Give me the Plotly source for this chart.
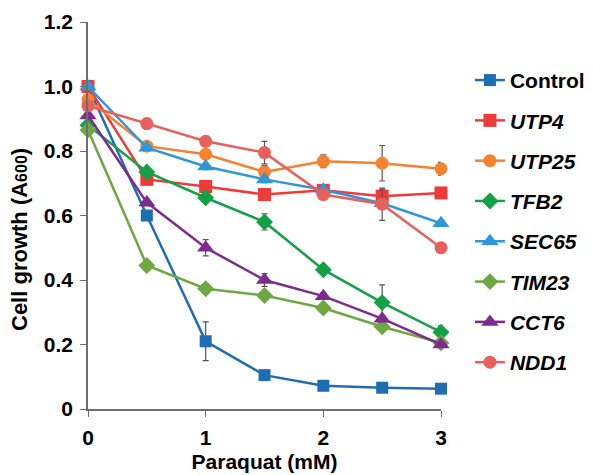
import plotly.graph_objects as go

paraquat = [0, 0.5, 1, 1.5, 2, 2.5, 3]

control = [1.00, 0.60, 0.21, 0.105, 0.072, 0.066, 0.063]
utp4 = [1.00, 0.712, 0.69, 0.665, 0.678, 0.66, 0.67]
utp25 = [0.96, 0.815, 0.79, 0.735, 0.768, 0.762, 0.745]
tfb2 = [0.88, 0.735, 0.655, 0.58, 0.432, 0.33, 0.238]
sec65 = [1.00, 0.81, 0.752, 0.712, 0.68, 0.638, 0.576]
tim23 = [0.865, 0.445, 0.373, 0.352, 0.313, 0.255, 0.205]
cct6 = [0.91, 0.64, 0.50, 0.40, 0.35, 0.28, 0.20]
ndd1 = [0.94, 0.885, 0.83, 0.795, 0.665, 0.635, 0.50]

control_err = [0, 0.01, 0.06, 0.005, 0.005, 0.005, 0.005]
utp4_err = [0, 0.01, 0.01, 0.015, 0.01, 0.02, 0.01]
utp25_err = [0, 0.01, 0.01, 0.02, 0.02, 0.055, 0.02]
tfb2_err = [0, 0.01, 0.015, 0.025, 0.01, 0.055, 0.02]
sec65_err = [0, 0.005, 0.01, 0.01, 0.01, 0.01, 0.005]
tim23_err = [0, 0.005, 0.005, 0.005, 0.005, 0.005, 0.005]
cct6_err = [0, 0.01, 0.025, 0.02, 0.01, 0.01, 0.01]
ndd1_err = [0, 0.01, 0.01, 0.035, 0.01, 0.05, 0.015]

names = ["Control", "<i>UTP4</i>", "<i>UTP25</i>", "<i>TFB2</i>", "<i>SEC65</i>",
         "<i>TIM23</i>", "<i>CCT6</i>", "<i>NDD1</i>"]
series = [control, utp4, utp25, tfb2, sec65, tim23, cct6, ndd1]
errors = [control_err, utp4_err, utp25_err, tfb2_err, sec65_err, tim23_err, cct6_err, ndd1_err]
colors = ["#1f6db3", "#ef3a3a", "#f6812f", "#14a046", "#2e97d8", "#6fa842", "#7e2b8f", "#e8605c"]
symbols = ["square", "square", "circle", "diamond", "triangle-up", "diamond", "triangle-up", "circle"]
sizes = [12, 13, 13, 13, 15, 13, 15, 13]

x_ticks = [0, 1, 2, 3]
y_ticks = [0, 0.2, 0.4, 0.6, 0.8, 1.0, 1.2]
y_tick_text = ["0", "0.2", "0.4", "0.6", "0.8", "1.0", "1.2"]

font_family = "Liberation Sans, Arial, sans-serif"

fig = go.Figure()
for i, (n, s, e, c, sym, sz) in enumerate(zip(names, series, errors, colors, symbols, sizes)):
    fig.add_trace(go.Scatter(
        x=paraquat, y=s, name=n, mode="lines+markers",
        line=dict(color=c, width=2.5),
        marker=dict(symbol=sym, size=sz, color=c),
        error_y=dict(type="data", array=e, color="#555555", thickness=1.2, width=3),
        legendgroup=str(i), cliponaxis=False,
    ))

fig.add_annotation(
    text="<b>Cell growth (A<span style='font-size:16px'>600</span>)</b>",
    xref="paper", yref="paper", x=-0.194, y=0.438, xanchor="center", yanchor="middle",
    textangle=-90, showarrow=False, font=dict(size=22, family=font_family, color="black"),
)

fig.update_layout(
    width=585, height=467,
    margin=dict(l=80, r=152, t=14, b=66, autoexpand=False),
    paper_bgcolor="white", plot_bgcolor="white",
    font=dict(family=font_family, color="black"),
    showlegend=True,
    legend=dict(x=1.082, y=0.902, xanchor="left", yanchor="top",
                font=dict(size=21, color="black", family=font_family, weight="bold"),
                tracegroupgap=10, itemwidth=30, bgcolor="rgba(0,0,0,0)"),
    xaxis=dict(range=[0, 3], tickvals=x_ticks, ticktext=[f"<b>{t}</b>" for t in x_ticks],
               showline=True, linecolor="#6e6e6e", linewidth=1.5, ticks="outside", ticklen=6,
               tickcolor="#6e6e6e", showgrid=False, zeroline=False, automargin=False,
               ticklabelstandoff=3,
               tickfont=dict(size=21), title=dict(text="<b>Paraquat (mM)</b>", font=dict(size=21), standoff=6)),
    yaxis=dict(range=[0, 1.2], tickvals=y_ticks,
               ticktext=[f"<b>{t}</b>" for t in y_tick_text],
               showline=True, linecolor="#6e6e6e", linewidth=1.5, ticks="outside", ticklen=6,
               tickcolor="#6e6e6e", showgrid=False, zeroline=False, automargin=False,
               ticklabelstandoff=3,
               tickfont=dict(size=21)),
)

fig.write_html("out.html")
